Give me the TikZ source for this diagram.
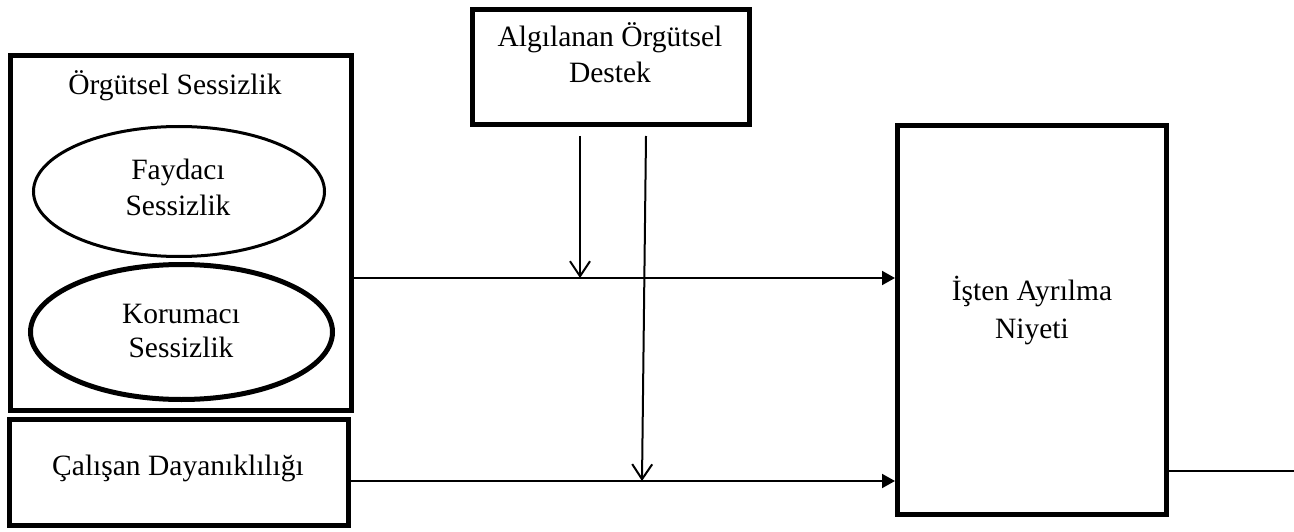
\documentclass[tikz,border=0pt]{standalone}
\usepackage{fontspec}
\setmainfont{Liberation Serif}
\usetikzlibrary{shapes.geometric,arrows.meta}
\begin{document}
\begin{tikzpicture}[x=1pt,y=-1pt,
  box/.style={draw,line width=5pt,inner sep=0pt,minimum width=#1},
  lbl/.style={inner sep=0pt,anchor=base,font=\fontsize{29.5}{35}\selectfont},
  conn/.style={line width=2pt},
  fullarrow/.style={conn,-{Triangle[length=13pt,width=14pt]}},
  openarrow/.style={conn,-{Straight Barb[length=15pt,width=20pt,line width=2pt]}}]
\useasboundingbox (0,0) rectangle (1294,532);
% boxes
\node[box=341pt,minimum height=355pt] (lb) at (181,233) {};
\node[box=339pt,minimum height=106pt] (cb) at (179,472.5) {};
\node[box=277pt,minimum height=115pt] (db) at (611,67) {};
\node[box=269pt,minimum height=389pt] (rb) at (1032,320) {};
\node[draw,ellipse,line width=3pt,inner sep=0pt,minimum width=291pt,minimum height=130pt] (e1) at (179,191.5) {};
\node[draw,ellipse,line width=5pt,inner sep=0pt,minimum width=302pt,minimum height=135pt] (e2) at (181.5,332) {};
% texts
\node[lbl] (t0) at (175,95) {Örgütsel Sessizlik};
\node[lbl] (t1a) at (178,180) {Faydacı};
\node[lbl] (t1b) at (178,215) {Sessizlik};
\node[lbl] (t2a) at (181,323) {Korumacı};
\node[lbl] (t2b) at (181,357) {Sessizlik};
\node[lbl] (t3) at (178,475) {Çalışan Dayanıklılığı};
\node[lbl] (t4a) at (610,47) {Algılanan Örgütsel};
\node[lbl] (t4b) at (610,83) {Destek};
\node[lbl] (t5a) at (1032,300) {İşten Ayrılma};
\node[lbl] (t5b) at (1032,338) {Niyeti};
% connectors
\coordinate (ya) at (0,278);
\coordinate (yb) at (0,481);
\coordinate (yc) at (0,471);
\coordinate (v1t) at (580,136);
\coordinate (v1b) at (580,278);
\coordinate (v2t) at (646,136);
\coordinate (v2b) at (642,481);
\coordinate (out) at (1294,471);
\draw[fullarrow] (lb.east |- ya) -- (rb.west |- ya);
\draw[fullarrow] (cb.east |- yb) -- (rb.west |- yb);
\draw[openarrow] (v1t) -- (v1b);
\draw[openarrow] (v2t) -- (v2b);
\draw[conn] (rb.east |- yc) -- (out);
\end{tikzpicture}
\end{document}
